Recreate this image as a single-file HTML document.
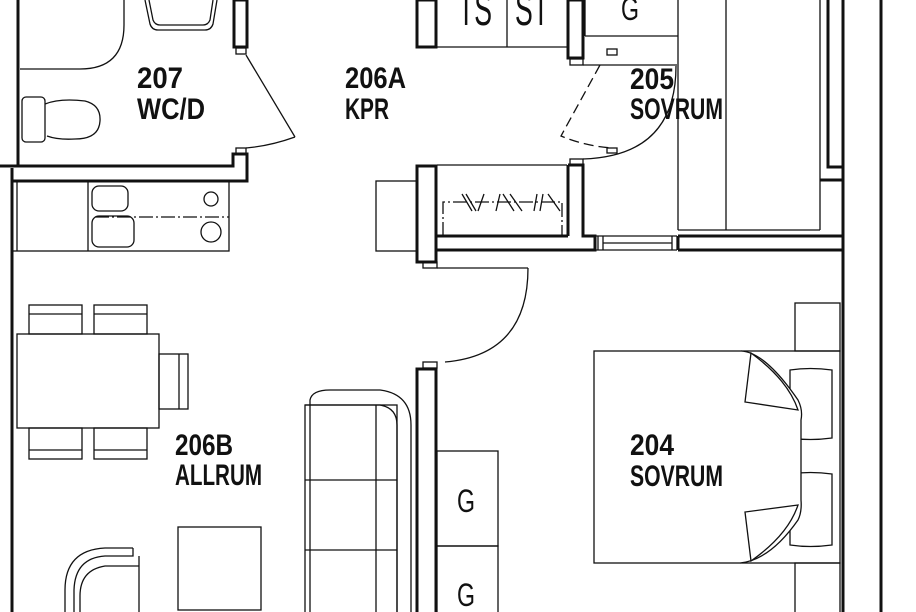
<!DOCTYPE html>
<html><head><meta charset="utf-8"><style>
html,body{margin:0;padding:0;background:#fff;}
svg{display:block}
text{font-family:"Liberation Sans",sans-serif;fill:#111;}
</style></head><body>
<svg width="916" height="612" viewBox="0 0 916 612" xmlns="http://www.w3.org/2000/svg">
<g fill="none" stroke="#111" stroke-width="1.3">
<line x1="18" y1="0" x2="18" y2="166" stroke-width="3"/>
<path d="M20 69 H80 Q124 69 124 25 V0"/>
<path d="M145 0 L150 24 Q152 30 158 30 H205 Q211 30 213 24 L217 0"/>
<path d="M149 0 L153 20 Q155 25 160 25 H203 Q208 25 210 20 L213 0"/>
<rect x="234" y="0" width="13" height="47" stroke-width="3"/>
<rect x="236" y="48" width="10" height="6"/>
<path d="M246 55 L295 137"/>
<path d="M295 137 Q270 146 246 148"/>
<rect x="236" y="148" width="10" height="6"/>
<path d="M0 166 H233 V154 H247 V181 H12" stroke-width="3"/>
<rect x="22" y="97" width="23" height="45" rx="4"/>
<path d="M45 104 Q60 98 85 101 Q101 105 100 121 Q99 139 75 139 Q58 140 47 136"/>
<line x1="12" y1="168" x2="12" y2="612" stroke-width="3"/>
<line x1="17" y1="181" x2="17" y2="251"/>
<rect x="12" y="181" width="217" height="70"/>
<line x1="88" y1="181" x2="88" y2="251"/>
<line x1="95" y1="217" x2="229" y2="217" stroke-dasharray="14 3 2 3"/>
<rect x="92" y="186" width="36" height="25" rx="7"/>
<rect x="92" y="216" width="42" height="31" rx="7"/>
<circle cx="211" cy="199" r="7"/>
<circle cx="211" cy="232" r="10"/>
<rect x="417" y="0" width="19" height="47" stroke-width="3"/>
<line x1="437" y1="47" x2="567" y2="47"/>
<line x1="507" y1="0" x2="507" y2="47"/>
<rect x="568" y="0" width="15" height="58" stroke-width="3"/>
<rect x="570" y="59" width="13" height="6"/>
<line x1="585" y1="36" x2="678" y2="36"/>
<line x1="585" y1="0" x2="585" y2="36"/>
<line x1="583" y1="65" x2="677" y2="65"/>
<rect x="607" y="49" width="10" height="6"/>
<path d="M600 65 L561 136 Q585 146 612 148" stroke-dasharray="10 5"/>
<rect x="607" y="148" width="10" height="5"/>
<path d="M676 66 Q676 156 583 159"/>
<rect x="570" y="159" width="13" height="6"/>
<line x1="678" y1="0" x2="678" y2="230"/>
<line x1="726" y1="0" x2="726" y2="230"/>
<line x1="678" y1="230" x2="820" y2="230"/>
<line x1="820" y1="0" x2="820" y2="230"/>
<path d="M828 0 V167 H843 V0" stroke-width="3"/>
<line x1="820" y1="180" x2="843" y2="180" stroke-width="3"/>
<line x1="843" y1="0" x2="843" y2="612" stroke-width="3"/>
<line x1="881" y1="0" x2="881" y2="612" stroke-width="3"/>
<rect x="376" y="181" width="41" height="70"/>
<rect x="417" y="166" width="19" height="96" stroke-width="3"/>
<rect x="423" y="262" width="14" height="6"/>
<line x1="437" y1="165" x2="567" y2="165"/>
<path d="M568 165 H583 V236 H595 V250 H437" stroke-width="3"/>
<line x1="437" y1="236" x2="568" y2="236" stroke-width="3"/>
<line x1="568" y1="165" x2="568" y2="236" stroke-width="3"/>
<path d="M443 236 V202 H562 V236" stroke-dasharray="14 3 2 3"/>
<path d="M462 194 L472 211 M466 194 L476 211 M484 194 L478 211 M500 194 L496 211 M503 194 L514 211 M510 194 L522 211 M537 194 L534 211 M543 194 L540 211 M548 194 L560 211"/>
<line x1="595" y1="236" x2="677" y2="236"/>
<line x1="603" y1="243" x2="672" y2="243"/>
<line x1="595" y1="250" x2="677" y2="250"/>
<line x1="598" y1="236" x2="598" y2="250"/>
<line x1="603" y1="236" x2="603" y2="250"/>
<line x1="672" y1="236" x2="672" y2="250"/>
<line x1="677" y1="236" x2="677" y2="250"/>
<path d="M678 236 H843 M678 250 H843 M678 236 V250" stroke-width="3"/>
<path d="M528 268 Q528 355 445 362"/>
<line x1="437" y1="268" x2="528" y2="268"/>
<rect x="423" y="362" width="14" height="6"/>
<rect x="417" y="369" width="19" height="250" stroke-width="3"/>
<rect x="17" y="334" width="142" height="94"/>
<rect x="29" y="305" width="53" height="29"/><line x1="29" y1="314" x2="82" y2="314"/>
<rect x="94" y="305" width="53" height="29"/><line x1="94" y1="314" x2="147" y2="314"/>
<rect x="29" y="428" width="53" height="31"/><line x1="29" y1="450" x2="82" y2="450"/>
<rect x="94" y="428" width="53" height="31"/><line x1="94" y1="450" x2="147" y2="450"/>
<rect x="159" y="354" width="29" height="55"/><line x1="179" y1="354" x2="179" y2="409"/>
<path d="M133 548 H105 Q65 550 65 590 V612"/>
<path d="M133 548 V556 H105 Q75 558 74 590 V612"/>
<path d="M139 556 V612 M139 566 H105 Q80 570 80 596 V612"/>
<rect x="178" y="527" width="83" height="83"/>
<path d="M310 612 V400 Q312 390 330 390 H380 Q411 394 411 425 V612"/>
<rect x="305" y="405" width="92" height="212"/>
<path d="M305 405 H380 Q397 408 397 425 V612"/>
<line x1="376" y1="405" x2="376" y2="612"/>
<line x1="305" y1="480" x2="397" y2="480"/>
<line x1="305" y1="550" x2="397" y2="550"/>
<rect x="437" y="451" width="61" height="95"/>
<rect x="437" y="546" width="61" height="70"/>
<rect x="795" y="303" width="45" height="48"/>
<rect x="795" y="563" width="45" height="55"/>
<rect x="594" y="351" width="246" height="212"/>
<line x1="777" y1="408" x2="777" y2="505"/>
<path d="M790 370 Q810 367 832 370 V438 Q810 441 790 438 Z"/>
<path d="M790 474 Q810 471 832 474 V545 Q810 548 790 545 Z"/>
<path d="M741 351 Q765 352 798 400 Q803 410 801 420 V500 Q802 512 798 520 Q770 560 740 563" fill="#fff"/>
<path d="M751 353 L745 402 L798 410 Q788 380 751 353 Z" fill="#fff"/>
<path d="M751 561 L745 512 L798 505 Q788 535 751 561 Z" fill="#fff"/>
</g>
<g font-size="30" font-weight="bold">
<text x="137" y="88" textLength="46" lengthAdjust="spacingAndGlyphs">207</text>
<text x="137" y="119" textLength="68" lengthAdjust="spacingAndGlyphs">WC/D</text>
<text x="345" y="88" textLength="61" lengthAdjust="spacingAndGlyphs">206A</text>
<text x="345" y="119" textLength="44" lengthAdjust="spacingAndGlyphs">KPR</text>
<text x="630" y="89" textLength="44" lengthAdjust="spacingAndGlyphs">205</text>
<text x="630" y="119" textLength="93" lengthAdjust="spacingAndGlyphs">SOVRUM</text>
<text x="175" y="455" textLength="58" lengthAdjust="spacingAndGlyphs">206B</text>
<text x="175" y="485" textLength="87" lengthAdjust="spacingAndGlyphs">ALLRUM</text>
<text x="630" y="455" textLength="44" lengthAdjust="spacingAndGlyphs">204</text>
<text x="630" y="486" textLength="93" lengthAdjust="spacingAndGlyphs">SOVRUM</text>
</g>
<g>
<text x="458" y="25" font-size="46" textLength="34" lengthAdjust="spacingAndGlyphs" fill="#333">TS</text>
<text x="515" y="25" font-size="46" textLength="34" lengthAdjust="spacingAndGlyphs" fill="#333">ST</text>
<text x="621" y="20" font-size="32" fill="#333" textLength="18" lengthAdjust="spacingAndGlyphs">G</text>
<text x="457" y="512" font-size="32" fill="#333" textLength="18" lengthAdjust="spacingAndGlyphs">G</text>
<text x="457" y="606" font-size="32" fill="#333" textLength="18" lengthAdjust="spacingAndGlyphs">G</text>
</g>
</svg>
</body></html>
